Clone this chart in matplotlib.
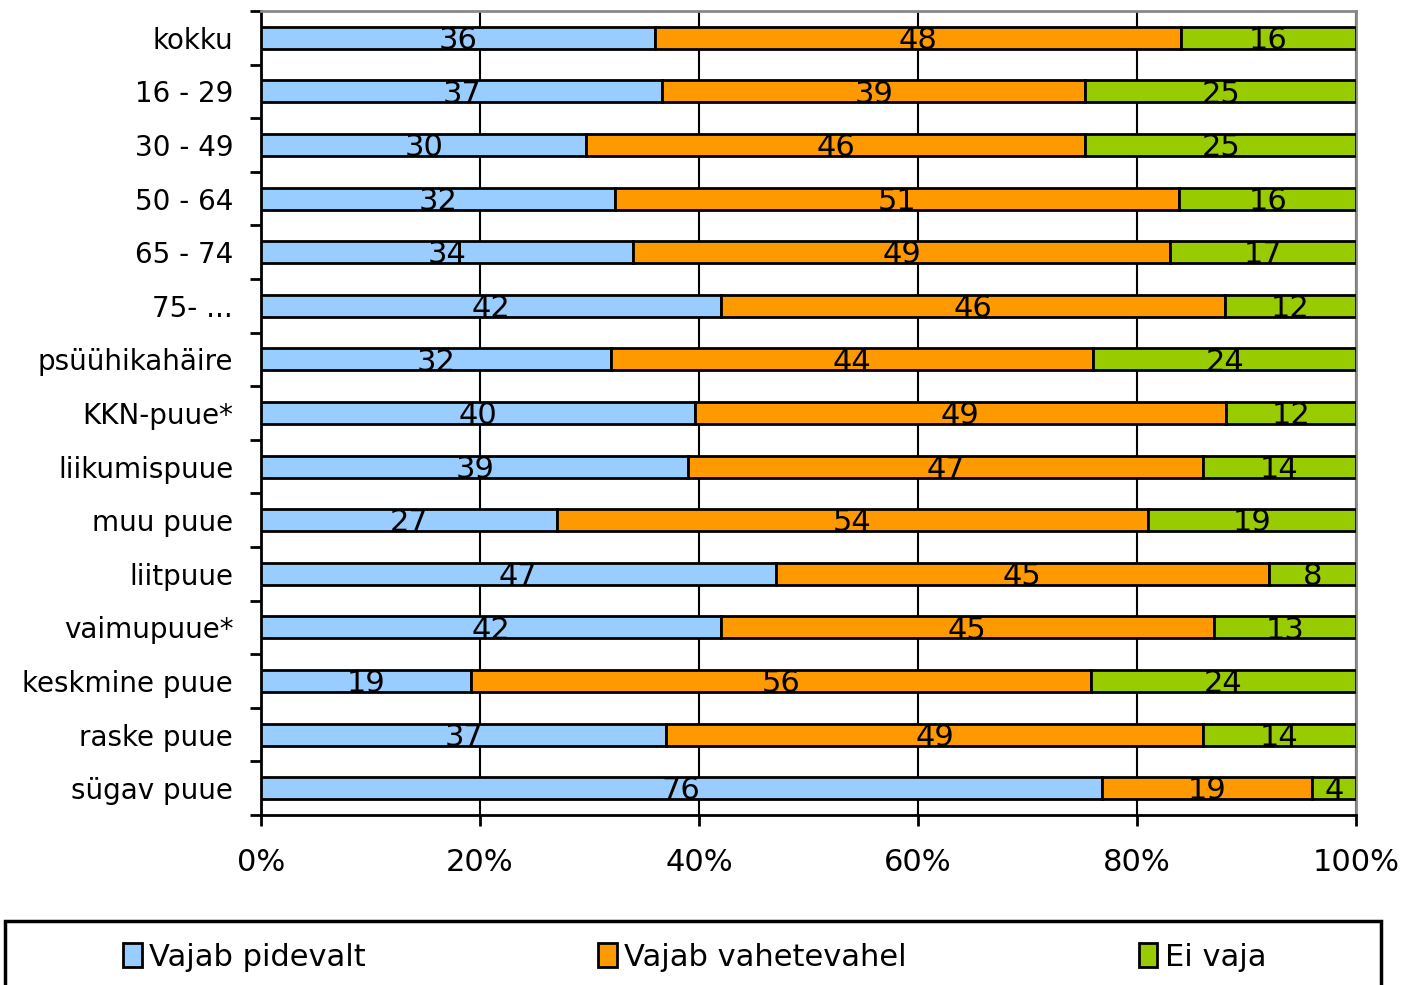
import numpy as np
import matplotlib
matplotlib.use("Agg")
import matplotlib.pyplot as plt
from matplotlib.patches import Rectangle

# categories, top to bottom
categories = ["kokku", "16 - 29", "30 - 49", "50 - 64", "65 - 74", "75- ...",
              "psüühikahäire", "KKN-puue*", "liikumispuue", "muu puue",
              "liitpuue", "vaimupuue*", "keskmine puue", "raske puue", "sügav puue"]
pidevalt = [36, 37, 30, 32, 34, 42, 32, 40, 39, 27, 47, 42, 19, 37, 76]
vahetevahel = [48, 39, 46, 51, 49, 46, 44, 49, 47, 54, 45, 45, 56, 49, 19]
ei_vaja = [16, 25, 25, 16, 17, 12, 24, 12, 14, 19, 8, 13, 24, 14, 4]
series_names = ["Vajab pidevalt", "Vajab vahetevahel", "Ei vaja"]
colors = ["#99CCFF", "#FF9900", "#99CC00"]
x_ticks = [0, 20, 40, 60, 80, 100]

plt.rcParams['font.family'] = ['DejaVu Sans']
fs = 22

data = np.array([pidevalt, vahetevahel, ei_vaja], dtype=float)
share = data / data.sum(axis=0) * 100  # 100% stacked

fig = plt.figure(figsize=(14.01, 9.85), dpi=100)
ax = fig.add_axes([0.1863, 0.1726, 0.9680 - 0.1863, 0.9888 - 0.1726])

y = np.arange(len(categories))
left = np.zeros(len(categories))
for i in range(3):
    ax.barh(y, share[i], left=left, height=0.41, color=colors[i],
            edgecolor="black", linewidth=2, label=series_names[i], zorder=3)
    for j in range(len(categories)):
        ax.text(left[j] + share[i][j] / 2, y[j] + 0.05, str(int(data[i][j])),
                ha="center", va="center", fontsize=fs, zorder=4)
    left += share[i]

ax.set_xlim(0, 100)
ax.set_ylim(len(categories) - 0.5, -0.5)
ax.set_xticks(x_ticks)
ax.set_xticklabels([f"{t}%" for t in x_ticks], fontsize=fs)
ax.set_yticks(y)
ax.set_yticklabels(categories, fontsize=20)
ax.set_yticks(np.arange(len(categories) + 1) - 0.5, minor=True)
ax.tick_params(axis="y", which="major", length=0, pad=20)
ax.tick_params(axis="y", which="minor", length=8, width=2, direction="out")
ax.tick_params(axis="x", length=8, width=2, direction="out", pad=16)
ax.xaxis.grid(True, color="black", linewidth=1.5, zorder=0)
for s in ["left", "bottom"]:
    ax.spines[s].set_linewidth(2)
    ax.spines[s].set_color("black")
for s in ["top", "right"]:
    ax.spines[s].set_linewidth(2)
    ax.spines[s].set_color("#888888")

# legend box (runs off the bottom edge like in the original)
fig.patches.append(Rectangle((5 / 1401, -0.05), 1376 / 1401, 0.05 + 1 - 921 / 985,
                             transform=fig.transFigure, fill=False,
                             edgecolor="black", linewidth=2.5))
leg = fig.legend(*ax.get_legend_handles_labels(), loc="center",
                 bbox_to_anchor=(0.496, 1 - 957 / 985), ncol=3, fontsize=fs,
                 frameon=False, handlelength=0.6, handleheight=0.8,
                 handletextpad=0.25, columnspacing=7.6)

fig.savefig("out.png", dpi=100)
